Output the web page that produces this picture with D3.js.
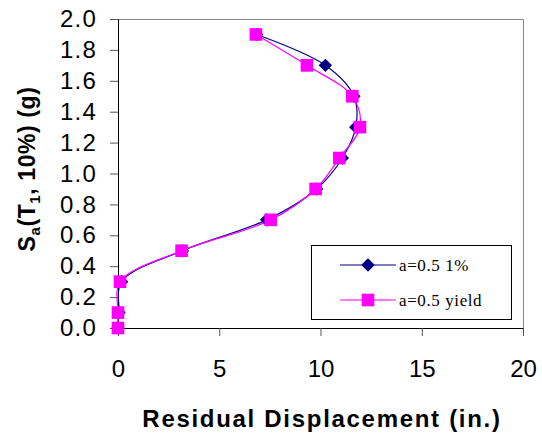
<!DOCTYPE html>
<meta charset="utf-8">
<script src="https://cdn.jsdelivr.net/npm/d3@7/dist/d3.min.js"></script>
<style>
  body { margin: 0; background: #fff; }
</style>
<svg id="graph" width="542" height="437"></svg>
<script>

// Sa(T1,10%) levels (g)
var saLevels = [0.0, 0.1, 0.3, 0.5, 0.7, 0.9, 1.1, 1.3, 1.5, 1.7, 1.9];
// residual displacement (in.) for each series
var disp1pct  = [0.0, 0.05, 0.18, 3.18, 7.34, 9.81, 11.08, 11.74, 11.65, 10.24, 6.85];
var dispYield = [0.0, 0.0, 0.10, 3.14, 7.54, 9.76, 10.93, 11.95, 11.57, 9.33, 6.81];
var seriesNames = ["a=0.5 1%", "a=0.5 yield"];
var xTicks = [0, 5, 10, 15, 20];
var yTicks = [0, 0.2, 0.4, 0.6, 0.8, 1.0, 1.2, 1.4, 1.6, 1.8, 2.0];

var svg = d3.select("svg"),
    margin = {top: 19, right: 19, bottom: 109, left: 118},
    width = 542 - margin.left - margin.right,
    height = 437 - margin.top - margin.bottom,
    g = svg.append("g").attr("transform", "translate(" + margin.left + "," + margin.top + ")");

var x = d3.scaleLinear().domain([0, 20]).range([0, width]),
    y = d3.scaleLinear().domain([0, 2]).range([height, 0]);

// diamond = square turned 45deg
var series = [
  {name: seriesNames[0], color: "#000080", shape: d3.symbolSquare, size: 90, rot: 45,
   values: saLevels.map(function(s, i) { return {d: disp1pct[i], s: s}; })},
  {name: seriesNames[1], color: "#ff00ff", shape: d3.symbolSquare, size: 160, rot: 0,
   values: saLevels.map(function(s, i) { return {d: dispYield[i], s: s}; })}
];

// plot border (top/right grey)
g.append("path")
    .attr("d", "M0.5,0.5H" + (width + 0.5) + "V" + height)
    .attr("fill", "none")
    .attr("stroke", "#888");

var xAxis = g.append("g")
    .attr("transform", "translate(0," + height + ")")
    .call(d3.axisBottom(x).tickValues(xTicks).tickSize(8).tickPadding(24).tickFormat(d3.format("d")));

var yAxis = g.append("g")
    .call(d3.axisLeft(y).tickValues(yTicks).tickSize(8).tickPadding(13).tickFormat(d3.format(".1f")));

[xAxis, yAxis].forEach(function(a) {
  a.select(".domain").attr("stroke", "#000");
  a.selectAll(".tick line").attr("stroke", "#555");
  a.selectAll("text")
      .attr("fill", "#000")
      .style("font", "24px 'Liberation Sans', Arial, sans-serif");
});
xAxis.selectAll("text").attr("dy", "0.71em");
yAxis.selectAll("text").style("letter-spacing", "1.2px");

var line = d3.line()
    .curve(d3.curveCatmullRom.alpha(0.5))
    .x(function(d) { return x(d.d); })
    .y(function(d) { return y(d.s); });

series.forEach(function(sr) {
  g.append("path")
      .attr("d", line(sr.values))
      .attr("fill", "none")
      .attr("stroke", sr.color)
      .attr("stroke-width", 1.2);
});

series.forEach(function(sr) {
  g.selectAll(null)
    .data(sr.values)
    .enter().append("path")
      .attr("transform", function(d) { return "translate(" + x(d.d) + "," + y(d.s) + ") rotate(" + sr.rot + ")"; })
      .attr("d", d3.symbol().type(sr.shape).size(sr.size))
      .attr("fill", sr.color);
});

// axis titles
svg.append("text")
    .attr("x", 322)
    .attr("y", 427)
    .attr("text-anchor", "middle")
    .style("font", "bold 24px 'Liberation Sans', Arial, sans-serif")
    .style("letter-spacing", "1.7px")
    .text("Residual Displacement (in.)");

var yt = svg.append("text")
    .attr("transform", "translate(35,169) rotate(-90)")
    .attr("text-anchor", "middle")
    .style("font", "bold 23px 'Liberation Sans', Arial, sans-serif")
    .style("letter-spacing", "0.6px");
yt.append("tspan").text("S");
yt.append("tspan").attr("dy", 5).style("font-size", "15px").text("a");
yt.append("tspan").attr("dy", -5).text("(T");
yt.append("tspan").attr("dy", 5).style("font-size", "15px").text("1");
yt.append("tspan").attr("dy", -5).text(", 10%) (g)");

// legend
var lg = svg.append("g").attr("transform", "translate(311,245)");
lg.append("rect")
    .attr("x", 0.5).attr("y", 0.5)
    .attr("width", 200).attr("height", 74)
    .attr("fill", "#fff")
    .attr("stroke", "#000");

series.forEach(function(sr, i) {
  var ly = 20 + i * 35;
  lg.append("line")
      .attr("x1", 29).attr("x2", 85)
      .attr("y1", ly).attr("y2", ly)
      .attr("stroke", sr.color)
      .attr("stroke-width", 1.2);
  lg.append("path")
      .attr("transform", "translate(57," + ly + ") rotate(" + sr.rot + ")")
      .attr("d", d3.symbol().type(sr.shape).size(sr.size))
      .attr("fill", sr.color);
  lg.append("text")
      .attr("x", 88)
      .attr("y", ly)
      .attr("dy", "0.35em")
      .style("font", "17px 'Liberation Serif', 'Times New Roman', serif")
      .style("letter-spacing", "0.6px")
      .text(sr.name);
});

</script>
